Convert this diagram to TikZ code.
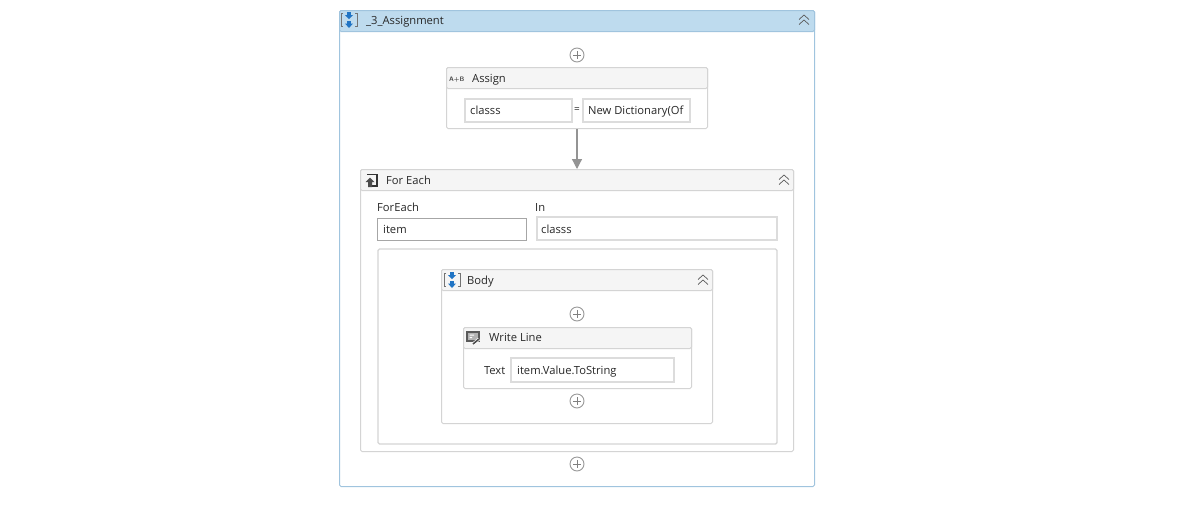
\documentclass[tikz,border=0pt]{standalone}
\usepackage{fontspec}
\setmainfont{Open Sans}
\usepackage{xcolor}
\usetikzlibrary{arrows.meta,positioning}
\definecolor{WFblue}{RGB}{160,196,222}
\definecolor{WFbar}{RGB}{190,219,238}
\definecolor{WFline}{RGB}{212,212,212}
\definecolor{WFhead}{RGB}{245,245,245}
\definecolor{WFfield}{RGB}{220,220,220}
\definecolor{WFicon}{RGB}{32,116,196}
\definecolor{WFtext}{RGB}{40,40,40}
\begin{document}
\begin{tikzpicture}[x=1pt,y=-1pt,every node/.style={font=\fontsize{11.2}{13}\selectfont,text=WFtext},
card/.style={draw=WFline,fill=white,rounded corners=1.5pt,line width=1pt,inner sep=0pt},
bar/.style={card,fill=WFhead,minimum height=21pt},
lbl/.style={anchor=west,inner sep=0pt,text height=9.5pt,text depth=1.5pt},
field/.style={draw=WFfield,fill=white,line width=2pt,inner sep=0pt},
plain/.style={draw=black!35,fill=white,line width=1pt,inner sep=0pt},
addbtn/.style={circle,draw=black!40,fill=white,line width=.9pt,minimum size=14pt,inner sep=0pt,
  path picture={\draw[black!50,line width=.9pt] (path picture bounding box.center)+(-4,0)--+(4,0) (path picture bounding box.center)+(0,-4)--+(0,4);}},
flow/.style={-{Triangle[length=10pt,width=10pt]},black!42,line width=1.2pt},
seqicon/.pic={\draw[black!55,line width=.8pt] (-6,-6.5)--(-8,-6.5)--(-8,6.5)--(-6,6.5) (6,-6.5)--(8,-6.5)--(8,6.5)--(6,6.5);
  \fill[WFicon] (-1.8,-8)--(1.8,-8)--(1.8,-5)--(4,-5)--(0,-.8)--(-4,-5)--(-1.8,-5)--cycle
    (-1.8,1)--(1.8,1)--(1.8,3.5)--(4,3.5)--(0,8)--(-4,3.5)--(-1.8,3.5)--cycle;},
upchev/.pic={\draw[black!65,line width=.7pt] (-5,-.5)--(0,-5)--(5,-.5) (-5,4.5)--(0,0)--(5,4.5);}]
\useasboundingbox (0,0) rectangle (1184,512);
% outer sequence
\node[card,draw=WFblue,minimum width=475pt,minimum height=476pt] (seq) at (577,248.5) {};
\node[bar,draw=WFblue,fill=WFbar,minimum width=475pt] (seqbar) at (577,21) {};
\pic at (349,20) {seqicon};
\node[lbl] (seqname) at (366,20.5) {\_3\_Assignment};
\pic at (804,20) {upchev};
\node[addbtn] (add1) at (577,55) {};
% assign
\node[card,minimum width=261pt,minimum height=61pt] (asg) at (577,98) {};
\node[bar,minimum width=261pt] (asgbar) at (577,78) {};
\node[lbl,font=\fontsize{6.5}{7}\sffamily\bfseries,text=black!70] (asgicon) at (449,77.5) {A+B};
\node[lbl] (asgname) at (472,78) {Assign};
\node[field,minimum width=107pt,minimum height=23pt] (lhs) at (518,110) {};
\node[lbl] (lhstxt) at (470,110.5) {classs};
\node[font=\fontsize{10}{12}\selectfont] (eq) at (577,110) {=};
\node[field,minimum width=107pt,minimum height=23pt] (rhs) at (636,110) {};
\node[lbl] (rhstxt) at (588,110.5) {New Dictionary(Of};
% for each
\node[card,minimum width=433pt,minimum height=282pt] (fe) at (577,310.5) {};
\node[bar,minimum width=433pt] (febar) at (577,180) {};
\draw[flow] (asg.south) -- (fe.north);
\draw[black!80,line width=1.6pt] (367,174.5)--(377,174.5)--(377,186)--(372,186);
\fill[black!70] (370,177.5)--(365.5,182)--(368,182)--(368,187)--(372,187)--(372,182)--(374.5,182)--cycle;
\node[lbl] (fename) at (386,180) {For Each};
\pic at (784,180) {upchev};
\node[lbl] (felbl) at (377,207.5) {ForEach};
\node[lbl] (inlbl) at (535,207.5) {In};
\node[plain,minimum width=149pt,minimum height=22pt] (itembox) at (452,229) {};
\node[lbl] (itemtxt) at (383,229.5) {item};
\node[field,minimum width=240pt,minimum height=23pt] (inbox) at (656.5,228.5) {};
\node[lbl] (intxt) at (541,229) {classs};
\node[card,line width=1.4pt,minimum width=399pt,minimum height=195pt] (frame) at (577.5,346.5) {};
% body
\node[card,minimum width=271pt,minimum height=154pt] (body) at (577,346.5) {};
\node[bar,minimum width=271pt] (bodybar) at (577,280) {};
\pic at (452,280) {seqicon};
\node[lbl] (bodyname) at (467,280) {Body};
\pic at (703,280) {upchev};
\node[addbtn] (add2) at (577,314) {};
% write line
\node[card,minimum width=228pt,minimum height=61pt] (wl) at (577.5,358) {};
\node[bar,minimum width=228pt] (wlbar) at (577.5,338) {};
\fill[black!65] (466,331) rectangle (480,342);
\fill[black!30] (468,333) rectangle (478,340);
\fill[white] (469.5,334.5) rectangle (474,335.5) (469.5,337) rectangle (472,338);
\draw[white,line width=3pt] (473,344)--(479,339);
\draw[black!70,line width=1.6pt] (473,344)--(479,339);
\node[lbl] (wlname) at (489,337.5) {Write Line};
\node[lbl,anchor=east] (textlbl) at (505.5,370.5) {Text};
\node[field,minimum width=163pt,minimum height=24pt] (textbox) at (592.5,369.5) {};
\node[lbl] (texttxt) at (517,370) {item.Value.ToString};
\node[addbtn] (add3) at (577,401) {};
\node[addbtn] (add4) at (577,464) {};
\end{tikzpicture}
\end{document}
